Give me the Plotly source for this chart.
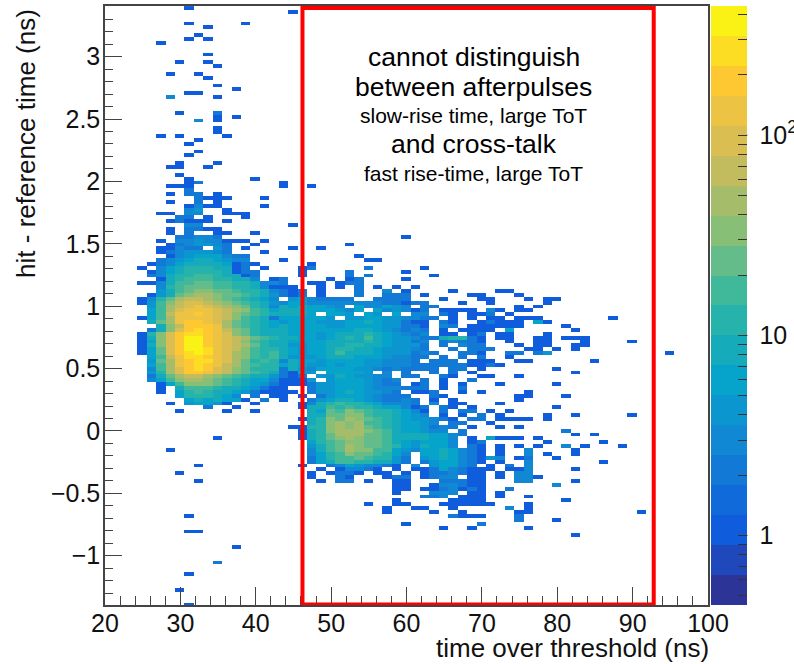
import math
import numpy as np
import plotly.graph_objects as go

# Axis and colour-band definition
X_FIRST_BIN = 21.17
X_BIN = 1.249
Y_FIRST_BIN = 3.390
Y_BIN = -0.03106
N_COLS = 64
N_ROWS = 155
COUNT_MIN = 0.45
COUNT_MAX = 441
N_BANDS = 20
BAND_CODES = "0123456789abcdefghij"

# Colour band of each histogram bin, row by row from the top ('.' = empty bin),
# columns grouped by ten
BAND_ROWS = {
0:"........2.", 1:".......... .........2", 4:"........2. ....2", 5:".......... 2", 7:".........2",
8:"........2. 2", 9:".....2", 12:".......... 2", 14:".......2.. 2", 15:".......... .2",
17:"......2..2", 18:".......... 2", 20:".......... .2", 21:".......... ...2", 22:"........22",
23:"......5... .2", 27:".......2.. .4", 28:".......... .2.2", 29:".........5 .2", 31:".......... .2",
32:".......... .2", 33:".....2.2.. ..2", 34:".........2", 35:"........2.", 37:".........2", 38:"........2.",
40:".......2.. .2", 41:"......22.. 2", 43:".......2..", 44:"........2. .....2",
45:"........24 ........2", 46:"......222. ........2. .2", 47:"........4.",
48:"......2.44 .2", 49:".........4 222...2", 50:"......2..4 .2", 51:"........25 22....2",
52:"........56 ..2", 53:".....22.55 ..222", 54:".......44. 2...2", 55:"......2422 2.2",
56:"........55 .........2", 57:"......2.44 22", 58:"......2.4. .22..2",
59:".......445 54........ .......... .2",
60:".....2.556 55222.2", 61:"......2456 654..2.... .....2", 62:".....22544 .64.2....2 ..2",
63:".....24566 654...2", 64:"......2567 77544..... ......2", 65:".....45678 87655...2. .......22.",
66:"....245788 887242.... .2", 67:"...2.57899 98824.2... 24.....4.. ...2",
68:"....257899 998244.... 2....4.... .2", 69:"....45899a a98824.... 2....4.4.. ....2",
70:".....289aa a99885.24. ...2.24... .2", 71:"...2258aab baa998554. .22.244...",
72:".....59abb baa9985222 ..2.2.4.2. 2.2", 73:".....68abc cbba998542 4.2...4..5 .2....2... .22",
74:"....268bcd dcbba98642 4.2...4..4 44.2....22 ...2",
75:"...259bdee dcba9875.6 754444..44 44...2...2 2...2.22..",
76:"...26aceff edcba98657 7555555554 4244...2.. 2.....2...",
77:"....6adefg fedcb98587 87765.7557 65.44..... ...2.2....",
78:"....7adfgg gfedca9788 8777657.75 6524.2222. 52.22.....",
79:"....7aeggh gfecba9888 87.776.76. 7.55.42.22 4.2.......",
80:"...27adggg gfeca98477 7776.66776 65544.2.2. 22.222.... ...2",
81:"....8bdghh gfdba98767 7766677876 6422.42..2 4222.72...",
82:".....8cehh hgdba98787 7776677776 6442.54.22 2222....2.",
83:"....48cfhi hgecb98887 7777778876 5454.2.222 2.7......2",
84:"...29cfhii hgfcb98887 7767888987 6545.22.24 .22...2...",
85:"...28cfhjj hgfedba988 7767898a87 6654489942 .22..22.22 2",
86:"...27cfhjj hgfeca9887 7778888987 6645.45442 ..2..22... 2....2",
87:"...28cfhjj hgfedb9886 6778899887 6664.4.544 ...2.22..2 2",
88:"...27bfhjj igfeca9987 6778998876 6654..4.44 4...22.2.2",
89:"...27bfhij igfdca9a87 6778a88876 66454..442 ..44.46... .........2",
90:"....7aegii hgfdca9a86 6678887776 5544.4.4.4 ..2",
91:"....6bdghi igfdb9a958 7767777665 554.444.22 2..22..... .2",
92:"....7adghi hgedba9978 7667677665 5544444422 42",
93:"....5adfhi hfecb99948 6577776654 54444.44.2 .......2",
94:"....69dfhh gfecba9842 76.77776.5 .4..4.4.2. .........2",
95:"....48bdee dcba988642 4.66876655 .44..42..2 2..2",
96:"....57acdd cba9877522 26.6777654 5..4.2..4.",
97:".....27acc cba9876422 2466777654 4.24.2.2.. .2.....2",
98:".....2.8aa a98876422. .466777655 5444.2.4..",
99:".....2.79a 9887642222 .466787665 4.224..2.2 ....2",
100:".......799 9875.4.22. 2.46777654 44..42.... ...22...2.",
101:"........78 78772.4.2. .467887654 454.2.2... ...2",
102:"......2.67 762..2.... 2589a99875 554.5.22.. .2",
103:".......... 4..2...... 288a9a9987 7524.42.2. .......2",
104:".......2.. ..2..2.... .87bacba99 8752.4.44. 2.2",
105:".......... .......... .88bbcca99 8765.2.2.4 .2....2..2 .....2",
106:".......... .......... 289cbdcba9 8766542.44 .2222.2...",
107:".......... .......... .89cdcdaa9 87765.44.. 2",
108:".......... .........2 299cdcdba9 8776454.2. .2.2",
109:".......... .......... 289cdddcba 877655.4.. ........4.",
110:".......... .......... 289bdddbba 88887754.. .........2 .2",
111:".......... .2........ 289bcdcbba 8888775.2. 7222.2....",
112:".......... .......... .79abccbba 8767775.24 ......2... ..2",
113:".......... .......... .68abdcbba 9768775.42 .2.2.2..5. 2...2",
114:"......2... .......... .58abdccaa 7657787542 .2..5....2",
115:".......... .......... .579acbba9 75.7787542 .2..5.2..2",
116:".......... .......... .479aaba99 64.6787542 65.24..2..",
117:".......... .......... .478aa9988 64.4677542 .2..5..... ..2",
118:".........2 .......... 2..4576554 2.5.67754. 2.4.5.....",
119:".......... .......... ..2.25542. 2.22475422 2.225....2",
120:".......2.. .......... .2.2442.22 .2.2445422 .2.55.....",
121:".......... .......... .2..42...2 44.2455.22 .2.552....",
122:".........2 .......... ..2.44.2.. 22...44422 ...55....2",
123:".......... .......... .......... 22..255422 .......5..",
124:".......... .......... .......... 22.2245242 ..4",
125:".......... .......... .......... 2...555.22 .2",
126:".......... .......... .......... ...445.222 .2..2",
127:".......... .......... .......... 2.....2222 ........2.",
128:".......... .......... .......2.. 22...22222 2...2",
129:".......... .......... .........2 ..22..2... ..5.2",
130:".......... .......... .........2 ....2..2.. ...22..... ......2",
131:"........2. .......... .......... ......4222 ...4",
132:".......... .......... .......... .......... ...4...2..",
133:".......... .......... .......... .2.......4",
134:".......... .......... .......... .....2..2. ....2",
135:"........22",
136:".......... .......... .......... .......... .........2",
139:".......... ...2",
143:".......... .4",
146:"........2.",
150:".......2..",
154:"........2.",
}

# Colour palette stops of the reference's colour bar
PALETTE_T = [0, 0.125, 0.25, 0.375, 0.5, 0.625, 0.75, 0.875, 1]
PALETTE_R = [0.2082, 0.0592, 0.0780, 0.0232, 0.1802, 0.5301, 0.8186, 0.9956, 0.9764]
PALETTE_G = [0.1664, 0.3599, 0.5041, 0.6419, 0.7178, 0.7492, 0.7328, 0.7862, 0.9832]
PALETTE_B = [0.5293, 0.8684, 0.8385, 0.7914, 0.6425, 0.4662, 0.3499, 0.1968, 0.0539]

COLORBAR_MINOR = [0.5, 0.6, 0.7, 0.8, 0.9, 2, 3, 4, 5, 6, 7, 8, 9, 20, 30, 40, 50, 60, 70, 80, 90, 200, 300, 400]
COLORBAR_MAJOR = [1, 10, 100]
COLORBAR_MAJOR_TEXT = ["\u00a01", "\u00a010", "\u00a010<sup>2</sup>"]

X_TITLE = "time over threshold (ns)"
Y_TITLE = "hit - reference time (ns)"
NOTES = [
    ("cannot distinguish", 57, 26.5),
    ("between afterpulses", 87, 26.5),
    ("slow-rise time, large ToT", 116, 21),
    ("and cross-talk", 144, 26.5),
    ("fast rise-time, large ToT", 173, 21),
]

FONT = "Liberation Sans"
W, H = 794, 664
L, R, T, B = 104.7, 708.5, 6.0, 605.0

zmin, zmax = math.log10(COUNT_MIN), math.log10(COUNT_MAX)
step = (zmax - zmin) / N_BANDS

z = np.full((N_ROWS, N_COLS), np.nan)
for r, text in BAND_ROWS.items():
    cols = "".join(g.ljust(10, ".") for g in text.split(" "))
    for c, ch in enumerate(cols):
        if ch != "." and c < N_COLS:
            z[r, c] = zmin + (BAND_CODES.index(ch) + 0.5) * step

colorscale = []
for i in range(N_BANDS):
    t = (i + 0.5) / N_BANDS
    rgb = [np.interp(t, PALETTE_T, ch) * 255 for ch in (PALETTE_R, PALETTE_G, PALETTE_B)]
    col = "rgb(%d,%d,%d)" % tuple(round(v) for v in rgb)
    colorscale += [[i / N_BANDS, col], [(i + 1) / N_BANDS, col]]

tick_counts = COLORBAR_MINOR + COLORBAR_MAJOR
tick_text = [""] * len(COLORBAR_MINOR) + COLORBAR_MAJOR_TEXT

fig = go.Figure(go.Heatmap(
    z=z,
    x=X_FIRST_BIN + X_BIN * np.arange(N_COLS),
    y=Y_FIRST_BIN + Y_BIN * np.arange(N_ROWS),
    zmin=zmin, zmax=zmax,
    colorscale=colorscale,
    hoverongaps=False,
    colorbar=dict(
        x=(712 - L) / (R - L), xanchor="left", xref="paper",
        y=0.5, yanchor="middle", len=1, lenmode="fraction",
        thickness=36, thicknessmode="pixels", xpad=0, ypad=0,
        outlinewidth=0,
        tickmode="array",
        tickvals=[math.log10(v) for v in tick_counts],
        ticktext=tick_text,
        ticks="inside", ticklen=9, tickwidth=1, tickcolor="#333333",
        tickfont=dict(family=FONT, size=25, color="#111111"),
    ),
))

axis_common = dict(
    showgrid=False, zeroline=False, showline=True, mirror=True, automargin=False,
    linecolor="#444444", linewidth=1.5,
    ticks="inside", tickcolor="#444444", tickwidth=1.2,
    tickfont=dict(family=FONT, size=25, color="#111111"),
)
fig.update_xaxes(range=[20, 100], tick0=20, dtick=10, ticklen=18, ticklabelstandoff=-5,
                 minor=dict(ticks="inside", ticklen=9, dtick=2, tick0=20, tickcolor="#444444", showgrid=False),
                 **axis_common)
fig.update_yaxes(range=[-1.395, 3.406], tick0=0, dtick=0.5, ticklen=17, ticklabelstandoff=-2,
                 minor=dict(ticks="inside", ticklen=8, dtick=0.1, tick0=0, tickcolor="#444444", showgrid=False),
                 **axis_common)

shapes = [dict(type="rect", xref="x", yref="y", x0=46.2, x1=92.8, y0=-1.39, y1=3.39,
               line=dict(color="#ff0000", width=4), fillcolor="rgba(0,0,0,0)")]
for v in COLORBAR_MAJOR:
    yp = (math.log10(v) - zmin) / (zmax - zmin)
    shapes.append(dict(type="line", xref="paper", yref="paper",
                       x0=(730 - L) / (R - L), x1=(748 - L) / (R - L), y0=yp, y1=yp,
                       line=dict(color="#333333", width=1)))

annotations = [
    dict(text=X_TITLE, xref="paper", yref="paper", x=(711.5 - L) / (R - L), y=-(648 - B) / (B - T),
         xanchor="right", yanchor="middle", showarrow=False, font=dict(family=FONT, size=26, color="#111111")),
    dict(text=Y_TITLE, xref="paper", yref="paper", x=-(L - 25) / (R - L), y=1 - (7 - T) / (B - T),
         xanchor="center", yanchor="top", textangle=-90, showarrow=False,
         font=dict(family=FONT, size=26, color="#111111")),
]
for text, ypx, size in NOTES:
    annotations.append(dict(text=text, xref="paper", yref="paper", x=(474 - L) / (R - L), y=1 - (ypx - T) / (B - T),
                            xanchor="center", yanchor="middle", showarrow=False,
                            font=dict(family=FONT, size=size, color="#000000")))

fig.update_layout(
    width=W, height=H, autosize=False,
    margin=dict(l=L, r=W - R, t=T, b=H - B, pad=0, autoexpand=False),
    paper_bgcolor="white", plot_bgcolor="white",
    shapes=shapes, annotations=annotations, showlegend=False,
)
fig.write_html("out.html", config={"displayModeBar": False},
               post_script="document.body.style.margin='0';document.documentElement.style.overflow='hidden';")
